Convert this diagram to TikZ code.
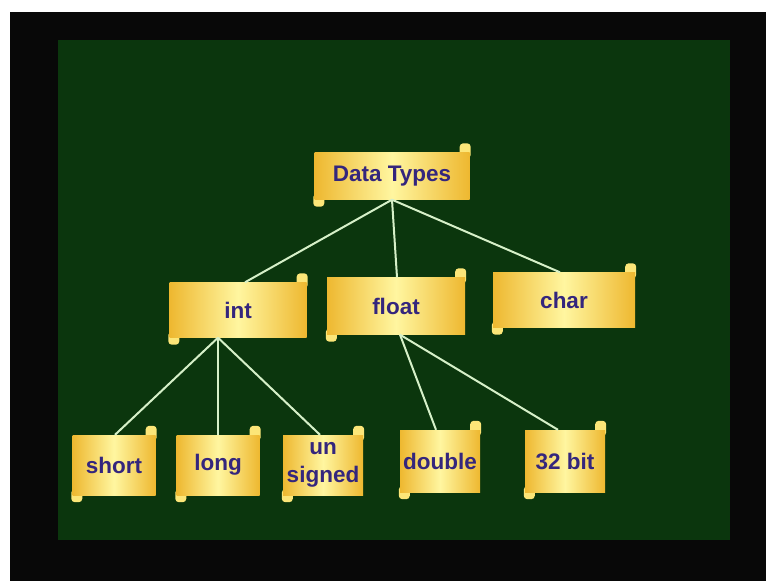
\documentclass[tikz,border=0pt]{standalone}
\usepackage{fontspec}
\setmainfont{Liberation Sans}
\usetikzlibrary{calc}
\definecolor{boardgreen}{RGB}{11,54,13}
\definecolor{frameblack}{RGB}{8,8,8}
\definecolor{scrollgold}{RGB}{238,184,48}
\definecolor{scrollcream}{RGB}{255,246,160}
\definecolor{tabyellow}{RGB}{252,230,120}
\definecolor{inkpurple}{RGB}{52,38,125}
\definecolor{linkgreen}{RGB}{214,240,200}
\pgfdeclarelayer{back}
\pgfdeclarelayer{tabs}
\pgfsetlayers{back,tabs,main}
\tikzset{
  scroll/.style={draw=none, left color=scrollgold, right color=scrollgold,
    middle color=scrollcream, text=inkpurple, align=center,
    font=\fontsize{22.5}{28}\selectfont\bfseries, inner sep=0pt},
  tab/.style={fill=tabyellow, rounded corners=3.5pt},
  link/.style={draw=linkgreen, line width=2pt}
}
\newcommand\scrolltabs[1]{%
  \fill[tab] ([xshift=-10pt,yshift=-6pt]#1.north east) rectangle ([xshift=1pt,yshift=9pt]#1.north east);
  \fill[tab] ([xshift=-1pt,yshift=6pt]#1.south west) rectangle ([xshift=10pt,yshift=-7pt]#1.south west);
}
\begin{document}
\begin{tikzpicture}[x=1pt,y=-1pt]
\begin{pgfonlayer}{back}
  \fill[white] (0,0) rectangle (766,581);
  \fill[frameblack] (10,12) rectangle (766,581);
  \fill[boardgreen] (58,40) rectangle (730,540);
\end{pgfonlayer}
\useasboundingbox (0,0) rectangle (766,581);

% nodes
\node[scroll, minimum width=155pt, minimum height=47pt] (dt) at (392,176) {Data Types};
\node[scroll, minimum width=137pt, minimum height=55pt] (int) at (238,310) {int};
\node[scroll, minimum width=138pt, minimum height=57pt] (float) at (396,306) {float};
\node[scroll, minimum width=142pt, minimum height=55pt] (char) at (564,300) {char};
\node[scroll, minimum width=83pt, minimum height=60pt] (short) at (114,465) {short};
\node[scroll, minimum width=83pt, minimum height=60pt] (long) at (218,465) {long};
\node[scroll, minimum width=80pt, minimum height=60pt] (unsigned) at (323,465) {un\\signed};
\node[scroll, minimum width=80pt, minimum height=62pt] (double) at (440,461) {double};
\node[scroll, minimum width=80pt, minimum height=62pt] (bit) at (565,461) {32 bit};

\begin{pgfonlayer}{tabs}
  \foreach \n in {dt,int,float,char,short,long,unsigned,double,bit} {\scrolltabs{\n}}
\end{pgfonlayer}

% connectors
\draw[link] (dt.south) -- ([xshift=7pt]int.north);
\draw[link] (dt.south) -- ([xshift=1pt]float.north);
\draw[link] (dt.south) -- ([xshift=-4pt]char.north);
\draw[link] ([xshift=-20pt]int.south) -- ([xshift=1pt]short.north);
\draw[link] ([xshift=-20pt]int.south) -- (long.north);
\draw[link] ([xshift=-20pt]int.south) -- ([xshift=-3pt]unsigned.north);
\draw[link] ([xshift=4pt]float.south) -- ([xshift=-4pt]double.north);
\draw[link] ([xshift=4pt]float.south) -- ([xshift=-7pt]bit.north);
\end{tikzpicture}
\end{document}
